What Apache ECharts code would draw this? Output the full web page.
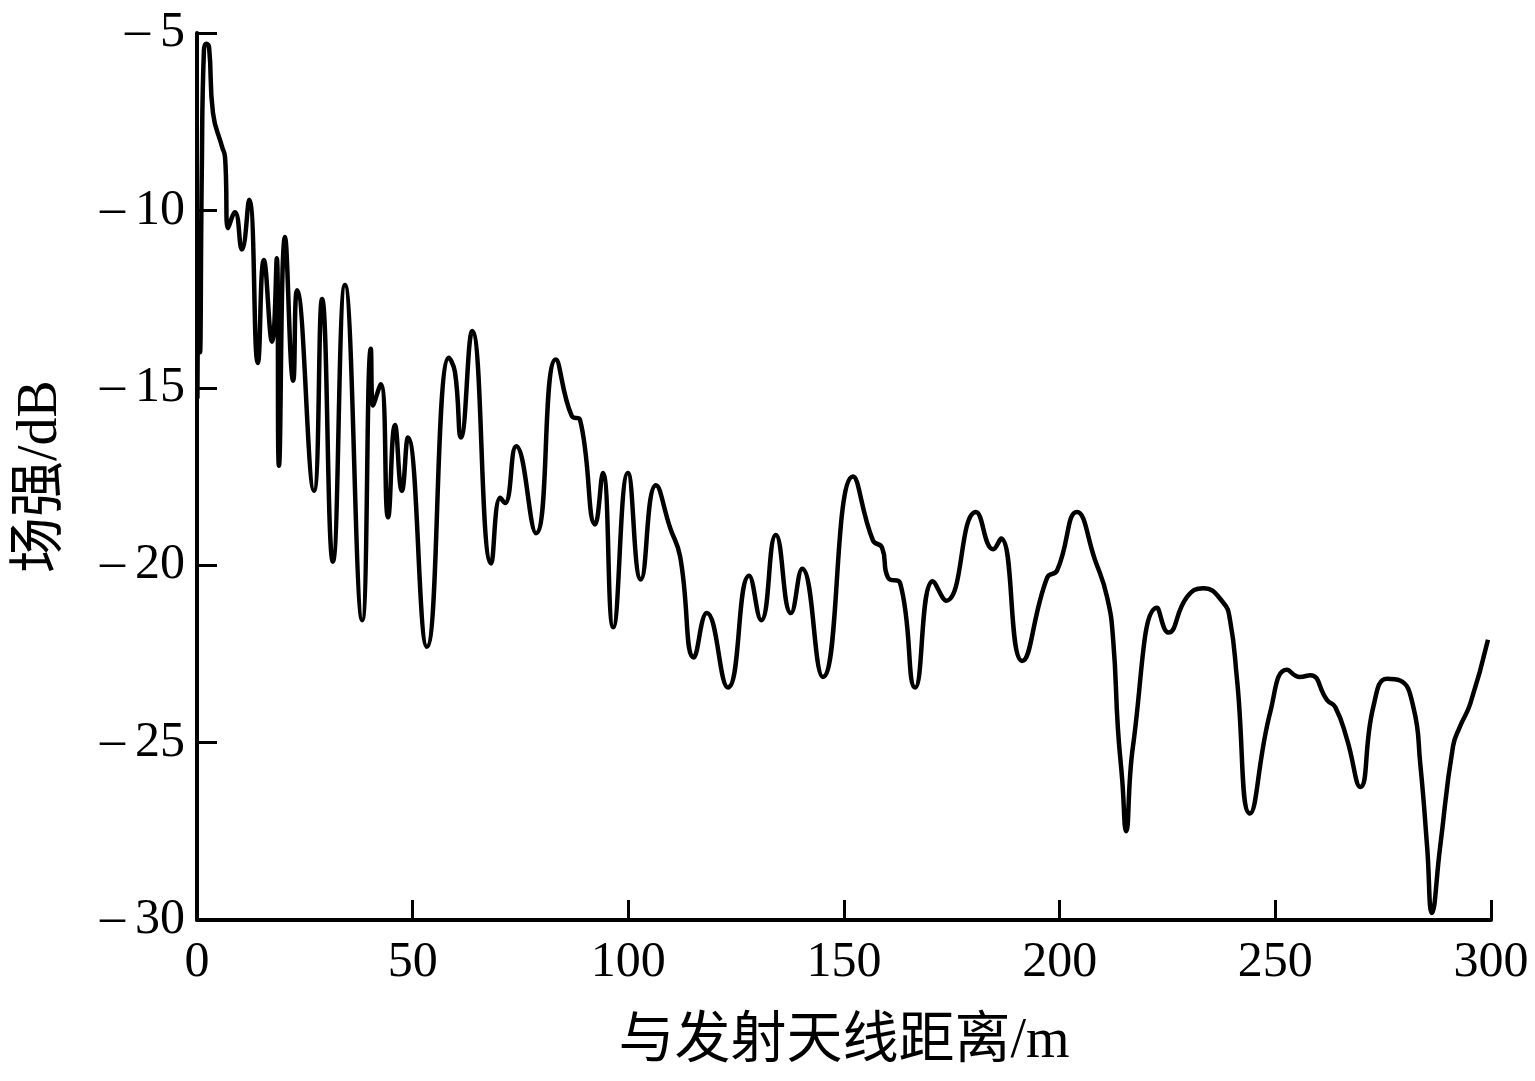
<!DOCTYPE html>
<html>
<head>
<meta charset="utf-8">
<script src="https://cdn.jsdelivr.net/npm/echarts@6/dist/echarts.min.js"></script>
<style>
  html, body { margin: 0; padding: 0; background: #fff; }
  #main { width: 1535px; height: 1081px; }
</style>
</head>
<body>
<div id="main"></div>
<script>
// 距离 (m) 与场强 (dB)
const distance = [
  0.1, 0.4, 0.7, 1.1, 1.6, 2.2, 2.8, 3.7, 5.8, 6.5, 7.2, 8.8, 10.4, 12.1, 14.1, 15.5,
  17.4, 18.5, 19.0, 20.4, 22.3, 23.2, 27.1, 29.0, 31.5, 34.3, 38.3, 40.3, 40.8, 42.6,
  44.3, 45.9, 47.5, 48.9, 53.3, 58.4, 59.8, 61.2, 63.8, 68.2, 70.3, 71.4, 74.0, 78.6,
  83.2, 86.9, 88.8, 92.3, 94.1, 96.5, 99.9, 102.9, 106.4, 109.7, 112.0, 115.2, 118.2,
  123.1, 128.0, 130.8, 134.2, 137.7, 140.3, 145.1, 152.1, 156.7, 158.8, 160.2, 163.0,
  166.5, 170.6, 173.7, 180.6, 184.6, 186.4, 191.3, 197.1, 199.4, 204.0, 208.2, 211.0,
  212.4, 213.5, 214.5, 215.4, 217.0, 222.6, 225.2, 229.5, 233.3, 237.9, 239.5, 241.1, 244.1, 248.8,
  252.7, 255.7, 258.1, 262.0, 263.9, 266.6, 269.7, 272.7, 275.9, 278.9, 282.0, 283.6,
  285.2, 286.3, 288.2, 291.2, 292.8, 295.2, 299.3
]
const fieldStrength = [
  -15.3, -11.2, -14.0, -9.0, -5.5, -5.3, -5.4, -7.25, -8.2, -8.5, -10.5, -10.05, -11.1, -9.7, -14.3, -11.4,
  -13.7, -11.35, -17.2, -10.75, -14.8, -12.25, -17.9, -12.5, -19.9, -12.1, -21.55, -13.9, -15.5, -14.9,
  -18.65, -16.05, -17.9, -16.4, -22.3, -14.15, -14.55, -16.4, -13.4, -19.95, -18.1, -18.25, -16.65, -19.1,
  -14.2, -15.8, -15.9, -18.85, -17.4, -21.75, -17.4, -20.4, -17.75, -18.95, -19.75, -22.6, -21.35,
  -23.45, -20.3, -21.55, -19.15, -21.35, -20.1, -23.15, -17.5, -19.3, -19.5, -20.35, -20.5,
  -23.45, -20.45, -21.0, -18.5, -19.55, -19.25, -22.7, -20.35, -20.15, -18.5, -19.85, -20.9,
  -22.1, -24.6, -26.05, -27.5, -25.1, -21.2, -21.9, -20.9, -20.65, -21.05, -21.55, -23.2, -27.0, -24.15,
  -22.95, -23.15, -23.1, -23.8, -24.0, -24.9, -26.25, -24.0, -23.2, -23.25, -24.0, -25.6,
  -27.95, -29.8, -27.95, -25.1, -24.55, -23.9, -22.1
]
const xTicks = [0, 50, 100, 150, 200, 250, 300]
const yTicks = [-30, -25, -20, -15, -10, -5]

const fontFam = "'Liberation Serif', 'Times New Roman', 'Noto Sans CJK SC', serif"

const chart = echarts.init(document.getElementById('main'), null, { renderer: 'canvas' })
chart.setOption({
  backgroundColor: '#fff',
  animation: false,
  grid: { left: 197, right: 44, top: 33, bottom: 161, containLabel: false },
  xAxis: {
    type: 'value',
    min: xTicks[0],
    max: xTicks[xTicks.length - 1],
    interval: 50,
    name: '与发射天线距离/m',
    nameLocation: 'middle',
    nameGap: 94,
    nameTextStyle: { fontFamily: fontFam, fontSize: 56, color: '#000' },
    axisLine: { lineStyle: { color: '#000', width: 4 } },
    axisTick: { inside: true, length: 20, lineStyle: { color: '#000', width: 3 } },
    axisLabel: { fontFamily: fontFam, fontSize: 50, color: '#000', margin: 18 },
    splitLine: { show: false }
  },
  yAxis: {
    type: 'value',
    min: yTicks[0],
    max: yTicks[yTicks.length - 1],
    interval: 5,
    name: '场强/dB',
    nameLocation: 'middle',
    nameGap: 128,
    nameTextStyle: { fontFamily: fontFam, fontSize: 56, color: '#000' },
    axisLine: { lineStyle: { color: '#000', width: 4 } },
    axisTick: { inside: true, length: 20, lineStyle: { color: '#000', width: 3 } },
    axisLabel: {
      fontFamily: fontFam, fontSize: 50, color: '#000', margin: 12,
      // 原图负号较宽，后面留一点空隙
      formatter: v => (v < 0 ? '\u2013\u2009' + Math.abs(v) : String(v))
    },
    splitLine: { show: false }
  },
  series: [
    {
      type: 'line',
      data: distance.map((d, i) => [d, fieldStrength[i]]),
      showSymbol: false,
      smooth: 0.5,
      lineStyle: { color: '#000', width: 4.5 }
    }
  ]
})
</script>
</body>
</html>
